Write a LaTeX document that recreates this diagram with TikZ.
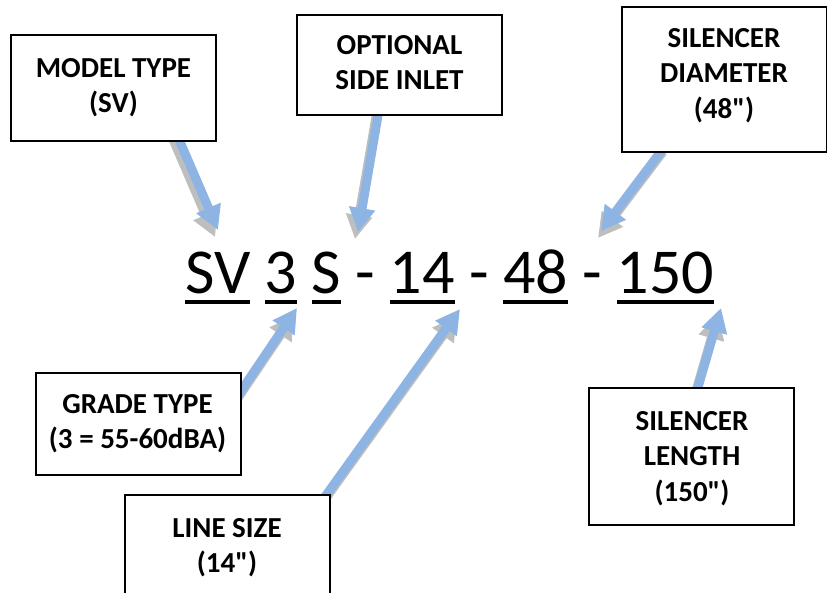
\documentclass[tikz,border=0pt]{standalone}
\usepackage{fontspec}
\setmainfont{Carlito}[Ligatures=TeXOff]
\usetikzlibrary{arrows.meta,calc}
\definecolor{arrowblue}{RGB}{141,180,226}
\definecolor{shadowgray}{RGB}{190,190,190}
\newsavebox\tokbox
\newcommand\tokul[1]{\sbox\tokbox{#1}\rlap{\rule[-10pt]{\wd\tokbox}{4pt}}\usebox\tokbox}
\tikzset{
  labelbox/.style={draw=black, line width=1.3pt, fill=white, minimum width=205pt, inner sep=0pt},
  boxtext/.style={align=center, inner sep=0pt, font=\fontsize{29}{35.5}\selectfont\bfseries},
  fatarrow/.style={line width=9pt, -{Triangle[length=24pt,width=25pt]}},
  bluearrow/.style={fatarrow, draw=arrowblue},
  shadowarrow/.style={fatarrow, draw=shadowgray, transform canvas={xshift=-3pt,yshift=-7pt}},
}
\begin{document}
\begin{tikzpicture}[x=1pt,y=-1pt]
\useasboundingbox (0,0) rectangle (827,593);
% boxes (positions only)
\path (113.5,88) node[labelbox, minimum height=106pt] (model) {};
\path (399.5,65) node[labelbox, minimum height=100pt] (opt) {};
\path (724.5,79.5) node[labelbox, minimum height=145pt] (diam) {};
\path (138.5,424) node[labelbox, minimum height=102pt] (grade) {};
\path (227.5,546) node[labelbox, minimum height=102pt] (line) {};
\path (691.5,456.5) node[labelbox, minimum height=137pt] (len) {};
% arrow start and tip points
\coordinate (s1) at ([xshift=66.5pt]model.south);
\coordinate (s2) at ([xshift=-21.5pt]opt.south);
\coordinate (s3) at ([xshift=-64.5pt]diam.south);
\coordinate (s4) at ([yshift=34pt]grade.east);
\coordinate (s5) at ([xshift=-4pt]line.north east);
\coordinate (s6) at ([xshift=6.5pt]len.north);
\coordinate (t1) at (218,230);
\coordinate (t2) at (358,232);
\coordinate (t3) at (601,231);
\coordinate (t4) at (297,308);
\coordinate (t5) at (460,309);
\coordinate (t6) at (721,308);
% shadows
\foreach \i in {1,...,6}{
  \draw[shadowarrow] ($(s\i)!-10pt!(t\i)$) -- (t\i);
}
% blue arrows
\foreach \i in {1,...,6}{
  \draw[bluearrow] ($(s\i)!-10pt!(t\i)$) -- (t\i);
}
% boxes drawn on top
\path (113.5,88) node[labelbox, minimum height=106pt] (modelb) {};
\path (399.5,65) node[labelbox, minimum height=100pt] (optb) {};
\path (724.5,79.5) node[labelbox, minimum height=145pt] (diamb) {};
\path (138.5,424) node[labelbox, minimum height=102pt] (gradeb) {};
\path (227.5,546) node[labelbox, minimum height=102pt] (lineb) {};
\path (691.5,456.5) node[labelbox, minimum height=137pt] (lenb) {};
% box texts
\node[boxtext] (modelt) at (113.5,87.7) {MODEL TYPE\\(SV)};
\node[boxtext] (optt) at (399.5,62.8) {OPTIONAL\\SIDE INLET};
\node[boxtext] (diamt) at (724,75.4) {SILENCER\\DIAMETER\\(48")};
\node[boxtext] (gradet) at (137.5,423.7) {GRADE TYPE\\(3 = 55-60dBA)};
\node[boxtext] (linet) at (227,547.6) {LINE SIZE\\(14")};
\node[boxtext] (lent) at (692,458.4) {SILENCER\\LENGTH\\(150")};
% model code
\node[anchor=base west, inner sep=0pt, font=\fontsize{64}{77}\selectfont] (code) at (185,294)
  {\tokul{SV} \tokul{3} \tokul{S} - \tokul{14} - \tokul{48} - \tokul{150}};
\end{tikzpicture}
\end{document}
